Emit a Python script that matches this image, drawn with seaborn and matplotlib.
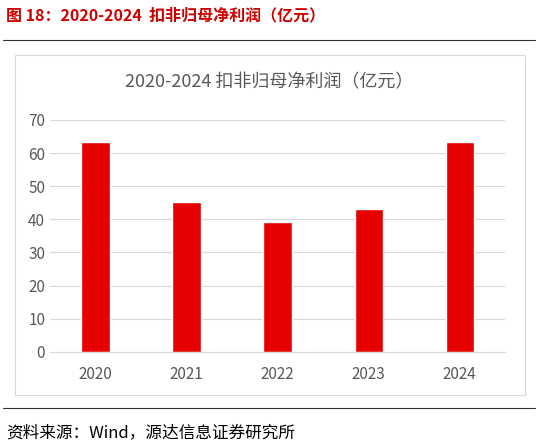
import matplotlib
matplotlib.use("Agg")
import matplotlib.pyplot as plt
import seaborn as sns
import pandas as pd
from matplotlib.patches import Rectangle

years = ["2020", "2021", "2022", "2023", "2024"]
profit = [63.3, 45.3, 39.1, 43.0, 63.3]

sns.set_style("white")
plt.rcParams['font.family'] = ['Noto Sans CJK SC', 'DejaVu Sans']

df = pd.DataFrame({"year": years, "profit": profit})

fig = plt.figure(figsize=(5.38, 4.46), dpi=100)
ax = fig.add_axes([0.093, 0.211, 0.846, 0.52])
sns.barplot(data=df, x="year", y="profit", color="#E60000", saturation=1, width=0.31, ax=ax)

ax.set_ylim(0, 70)
ax.set_yticks(range(0, 71, 10))
ax.grid(axis="y", color="#D9D9D9", linewidth=0.8)
ax.set_axisbelow(True)
for s in ["top", "right", "left"]:
    ax.spines[s].set_visible(False)
ax.spines["bottom"].set_color("#D9D9D9")
ax.tick_params(axis="both", labelsize=11, colors="#595959", length=0)
ax.tick_params(axis="x", pad=10)
ax.set_xlabel("")
ax.set_ylabel("")

fig.text(0.012, 0.965, "图 18：2020-2024  扣非归母净利润（亿元）", color="#D00000",
         fontsize=11.5, fontweight="bold", va="center")
fig.add_artist(plt.Line2D([0.005, 0.995], [0.91, 0.91], color="#333333", lw=0.8))
fig.add_artist(Rectangle((0.028, 0.115), 0.948, 0.762, transform=fig.transFigure,
                         fill=False, edgecolor="#D9D9D9", lw=0.8))
fig.text(0.5, 0.815, "2020-2024 扣非归母净利润（亿元）", color="#595959",
         fontsize=13, ha="center", va="center")
fig.add_artist(plt.Line2D([0.005, 0.995], [0.085, 0.085], color="#333333", lw=0.8))
fig.text(0.012, 0.03, "资料来源：Wind，源达信息证券研究所", color="#000000",
         fontsize=12, va="center")

fig.savefig("out.png", dpi=100)
